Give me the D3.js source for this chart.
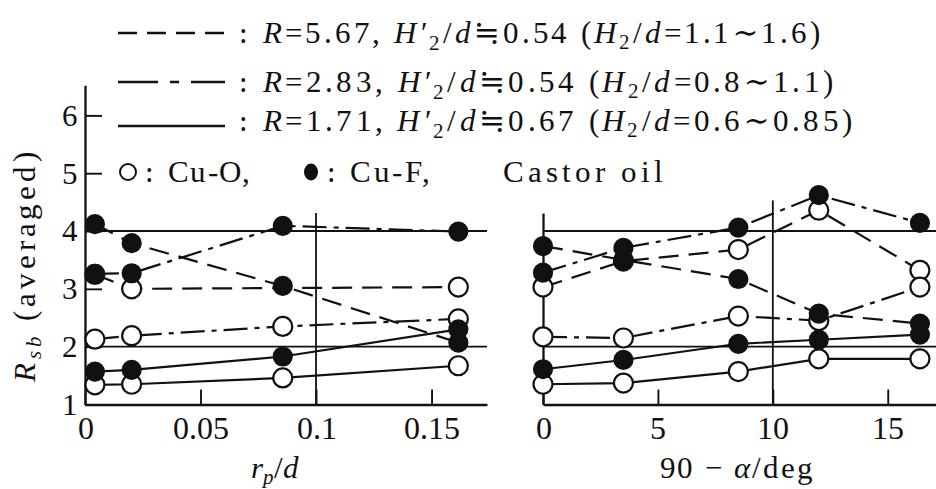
<!DOCTYPE html>
<html>
<head>
<meta charset="utf-8">
<script src="https://cdn.jsdelivr.net/npm/d3@7"></script>
<style>
  @font-face {
    font-family: "ChartSerif";
    src: local("Liberation Serif"), local("LiberationSerif"), local("LiberationSerif-Regular"),
         local("DejaVu Serif"), local("DejaVuSerif"), local("Noto Serif"), local("NotoSerif-Regular");
    font-style: normal;
  }
  @font-face {
    font-family: "ChartSerif";
    src: local("Liberation Serif Italic"), local("LiberationSerif-Italic"),
         local("DejaVu Serif Italic"), local("DejaVuSerif-Italic"), local("Noto Serif Italic");
    font-style: italic;
  }
  body { margin: 0; background: #fff; }
  svg { display: block; }
  svg text { font-family: "ChartSerif", "Liberation Serif", "DejaVu Serif", serif; }
</style>
</head>
<body>
<svg id="chart" width="936" height="489"></svg>
<script>
// ---- data -------------------------------------------------------------
const rpdValues   = [0.0043, 0.0202, 0.0856, 0.1616];   // r_p/d
const angleValues = [0, 3.5, 8.5, 12, 16.4];           // 90 - alpha (deg)

const rpdTicks      = [0, 0.05, 0.1, 0.15];
const rpdTickLabels = ["0", "0.05", "0.1", "0.15"];
const angleTicks    = [0, 5, 10, 15];
const rsbTicks      = [1, 2, 3, 4, 5, 6];

// one entry per line style: dashed, dash-dot, solid
const styleNames = ["dashed", "dashdot", "solid"];
const ratioR     = ["5.67", "2.83", "1.71"];
const ratioH2p   = ["0.54", "0.54", "0.67"];
const ratioH2    = ["1.1∼1.6", "0.8∼1.1", "0.6∼0.85"];

// left panel: R_sb against r_p/d
const leftDashedCuO  = [3.25, 3.00, null, 3.03];
const leftDashedCuF  = [4.12, 3.79, 3.05, 2.07];
const leftDashdotCuO = [2.13, 2.19, 2.35, 2.48];
const leftDashdotCuF = [3.26, 3.27, 4.09, 3.99];
const leftSolidCuO   = [1.34, 1.35, 1.46, 1.67];
const leftSolidCuF   = [1.57, 1.60, 1.83, 2.30];

// right panel: R_sb against 90 - alpha
const rightDashedCuO  = [3.03, 3.48, 3.68, 4.36, 3.32];
const rightDashedCuF  = [3.74, 3.50, 3.17, 2.57, 2.40];
const rightDashdotCuO = [2.17, 2.15, 2.53, 2.45, 3.03];
const rightDashdotCuF = [3.28, 3.71, 4.06, 4.62, 4.14];
const rightSolidCuO   = [1.35, 1.37, 1.57, 1.79, 1.79];
const rightSolidCuF   = [1.61, 1.77, 2.05, 2.12, 2.21];

// ---- layout -----------------------------------------------------------
const svg = d3.select("#chart");
const INK = "#111";
const dashes = { dashed: "20,10", dashdot: "24,7,5,7", solid: null };
const legendDashes = { dashed: "19,10", dashdot: "40,12,9,12", solid: null };

const y  = d3.scaleLinear().domain([1, 6.52]).range([404.5, 85.3]);
const xL = d3.scaleLinear().domain([0, 0.174]).range([85, 487]);
const xR = d3.scaleLinear().domain([0, 17.1]).range([543, 936]);

function label(sel, x, yy, size) {
  return sel.append("text").attr("x", x).attr("y", yy)
    .attr("font-size", size).attr("fill", INK);
}

// ---- axes -------------------------------------------------------------
function styleAxis(g, size) {
  g.attr("font-family", null).attr("font-size", size);
  g.selectAll("path.domain").attr("stroke", INK).attr("stroke-width", 2.3);
  g.selectAll(".tick line").attr("stroke", INK).attr("stroke-width", 1.9);
  g.selectAll(".tick text").attr("fill", INK);
}

// left y axis with labels
svg.append("g").attr("transform", `translate(${xL(0)},0)`)
  .call(d3.axisLeft(y).tickValues(rsbTicks).tickFormat(d3.format("d"))
    .tickSize(-17).tickSizeOuter(0).tickPadding(7))
  .call(g => styleAxis(g, 31));

// left x axis
svg.append("g").attr("transform", `translate(0,${y(1)})`)
  .call(d3.axisBottom(xL).tickValues(rpdTicks).tickFormat((d, i) => rpdTickLabels[i])
    .tickSize(-15).tickSizeOuter(0).tickPadding(12))
  .call(g => styleAxis(g, 32));

// right y axis (no labels), shorter
const yRight = y.copy().domain([1, 4.31]).range([y(1), y(4.31)]);
svg.append("g").attr("transform", `translate(${xR(0)},0)`)
  .call(d3.axisLeft(yRight).tickValues([]).tickSizeOuter(0))
  .call(g => styleAxis(g, 31));

// right x axis
svg.append("g").attr("transform", `translate(0,${y(1)})`)
  .call(d3.axisBottom(xR).tickValues(angleTicks).tickFormat(d3.format("d"))
    .tickSize(-15).tickSizeOuter(0).tickPadding(12))
  .call(g => styleAxis(g, 32));

// reference lines at R_sb = 2, 4 and the vertical guides
const guides = svg.append("g").attr("stroke", INK).attr("stroke-width", 1.8);
[2, 4].forEach(v => {
  guides.append("line").attr("x1", xL(0)).attr("x2", xL(0.174)).attr("y1", y(v)).attr("y2", y(v));
  guides.append("line").attr("x1", xR(0)).attr("x2", xR(17.1)).attr("y1", y(v)).attr("y2", y(v));
});
guides.append("line").attr("x1", xL(0.1)).attr("x2", xL(0.1)).attr("y1", y(1)).attr("y2", y(4.31));
guides.append("line").attr("x1", xR(10)).attr("x2", xR(10)).attr("y1", y(1)).attr("y2", y(4.53));

// ---- series -----------------------------------------------------------
const leftSeries = [
  { style: "dashed",  oil: "O", values: leftDashedCuO },
  { style: "dashed",  oil: "F", values: leftDashedCuF },
  { style: "dashdot", oil: "O", values: leftDashdotCuO },
  { style: "dashdot", oil: "F", values: leftDashdotCuF },
  { style: "solid",   oil: "O", values: leftSolidCuO },
  { style: "solid",   oil: "F", values: leftSolidCuF },
];
const rightSeries = [
  { style: "dashed",  oil: "O", values: rightDashedCuO },
  { style: "dashed",  oil: "F", values: rightDashedCuF },
  { style: "dashdot", oil: "O", values: rightDashdotCuO },
  { style: "dashdot", oil: "F", values: rightDashdotCuF },
  { style: "solid",   oil: "O", values: rightSolidCuO },
  { style: "solid",   oil: "F", values: rightSolidCuF },
];

function drawPanel(series, xs, xScale) {
  const g = svg.append("g");
  const pts = s => s.values.map((v, i) => ({ x: xs[i], v })).filter(d => d.v != null);
  const line = d3.line().x(d => xScale(d.x)).y(d => y(d.v));
  g.selectAll("path.series").data(series).join("path")
    .attr("class", "series")
    .attr("d", s => line(pts(s)))
    .attr("fill", "none").attr("stroke", INK).attr("stroke-width", 2.2)
    .attr("stroke-dasharray", s => dashes[s.style]);
  // open markers first, filled markers on top
  ["O", "F"].forEach(oil => {
    series.filter(s => s.oil === oil).forEach(s => {
      g.selectAll(null).data(pts(s)).join("circle")
        .attr("cx", d => xScale(d.x)).attr("cy", d => y(d.v))
        .attr("r", oil === "O" ? 9.5 : 9)
        .attr("fill", oil === "O" ? "#fff" : INK)
        .attr("stroke", INK).attr("stroke-width", 2.2);
    });
  });
}
drawPanel(leftSeries, rpdValues, xL);
drawPanel(rightSeries, angleValues, xR);

// ---- axis titles ------------------------------------------------------
const yTitle = svg.append("text")
  .attr("transform", "translate(35,267) rotate(-90)")
  .attr("font-size", 31).attr("fill", INK)
  .attr("text-anchor", "middle")
  .attr("textLength", 230).attr("lengthAdjust", "spacing");
yTitle.append("tspan").attr("font-style", "italic").text("R");
yTitle.append("tspan").attr("font-style", "italic").attr("font-size", 21).attr("dy", 6).text("sb");
yTitle.append("tspan").attr("dy", -6).text(" (averaged)");

const xTitleL = label(svg, 275, 478, 31).attr("text-anchor", "middle");
xTitleL.append("tspan").attr("font-style", "italic").text("r");
xTitleL.append("tspan").attr("font-style", "italic").attr("font-size", 21).attr("dy", 6).text("p");
xTitleL.append("tspan").attr("dy", -6).text("/");
xTitleL.append("tspan").attr("font-style", "italic").text("d");

const xTitleR = label(svg, 736, 478, 31).attr("text-anchor", "middle")
  .attr("textLength", 153).attr("lengthAdjust", "spacing");
xTitleR.append("tspan").text("90 − ");
xTitleR.append("tspan").attr("font-style", "italic").text("α");
xTitleR.append("tspan").text("/deg");

// ---- legend -----------------------------------------------------------
const legendSampleY = [33, 82, 126];
const legendBaseY   = [43, 92, 131];
const legendEndX    = [820, 833, 852];

styleNames.forEach((st, i) => {
  svg.append("line")
    .attr("x1", 118).attr("x2", 225).attr("y1", legendSampleY[i]).attr("y2", legendSampleY[i])
    .attr("stroke", INK).attr("stroke-width", 2.4)
    .attr("stroke-dasharray", legendDashes[st]);
  label(svg, 239, legendBaseY[i], 31).text(":");
  const t = label(svg, 263, legendBaseY[i], 31)
    .attr("textLength", legendEndX[i] - 263).attr("lengthAdjust", "spacing");
  t.append("tspan").attr("font-style", "italic").text("R");
  t.append("tspan").text("=" + ratioR[i] + ", ");
  t.append("tspan").attr("font-style", "italic").text("H′");
  t.append("tspan").attr("font-size", 21).attr("dy", 7).text("2");
  t.append("tspan").attr("dy", -7).text("/");
  t.append("tspan").attr("font-style", "italic").text("d");
  t.append("tspan").text("≒" + ratioH2p[i] + " (");
  t.append("tspan").attr("font-style", "italic").text("H");
  t.append("tspan").attr("font-size", 21).attr("dy", 6).text("2");
  t.append("tspan").attr("dy", -6).text("/");
  t.append("tspan").attr("font-style", "italic").text("d");
  t.append("tspan").text("=" + ratioH2[i] + ")");
});

// marker key row
const keyY = 172, keyBase = 182;
svg.append("circle").attr("cx", 128).attr("cy", keyY).attr("r", 8)
  .attr("fill", "#fff").attr("stroke", INK).attr("stroke-width", 2);
label(svg, 145, keyBase, 31).text(":");
label(svg, 168, keyBase, 31).attr("textLength", 82).attr("lengthAdjust", "spacing").text("Cu-O,");
svg.append("ellipse").attr("cx", 311).attr("cy", keyY).attr("rx", 7).attr("ry", 8.5).attr("fill", INK);
label(svg, 327, keyBase, 31).text(":");
label(svg, 350, keyBase, 31).attr("textLength", 80).attr("lengthAdjust", "spacing").text("Cu-F,");
label(svg, 503, keyBase, 31).attr("textLength", 160).attr("lengthAdjust", "spacing").text("Castor oil");
</script>
</body>
</html>
